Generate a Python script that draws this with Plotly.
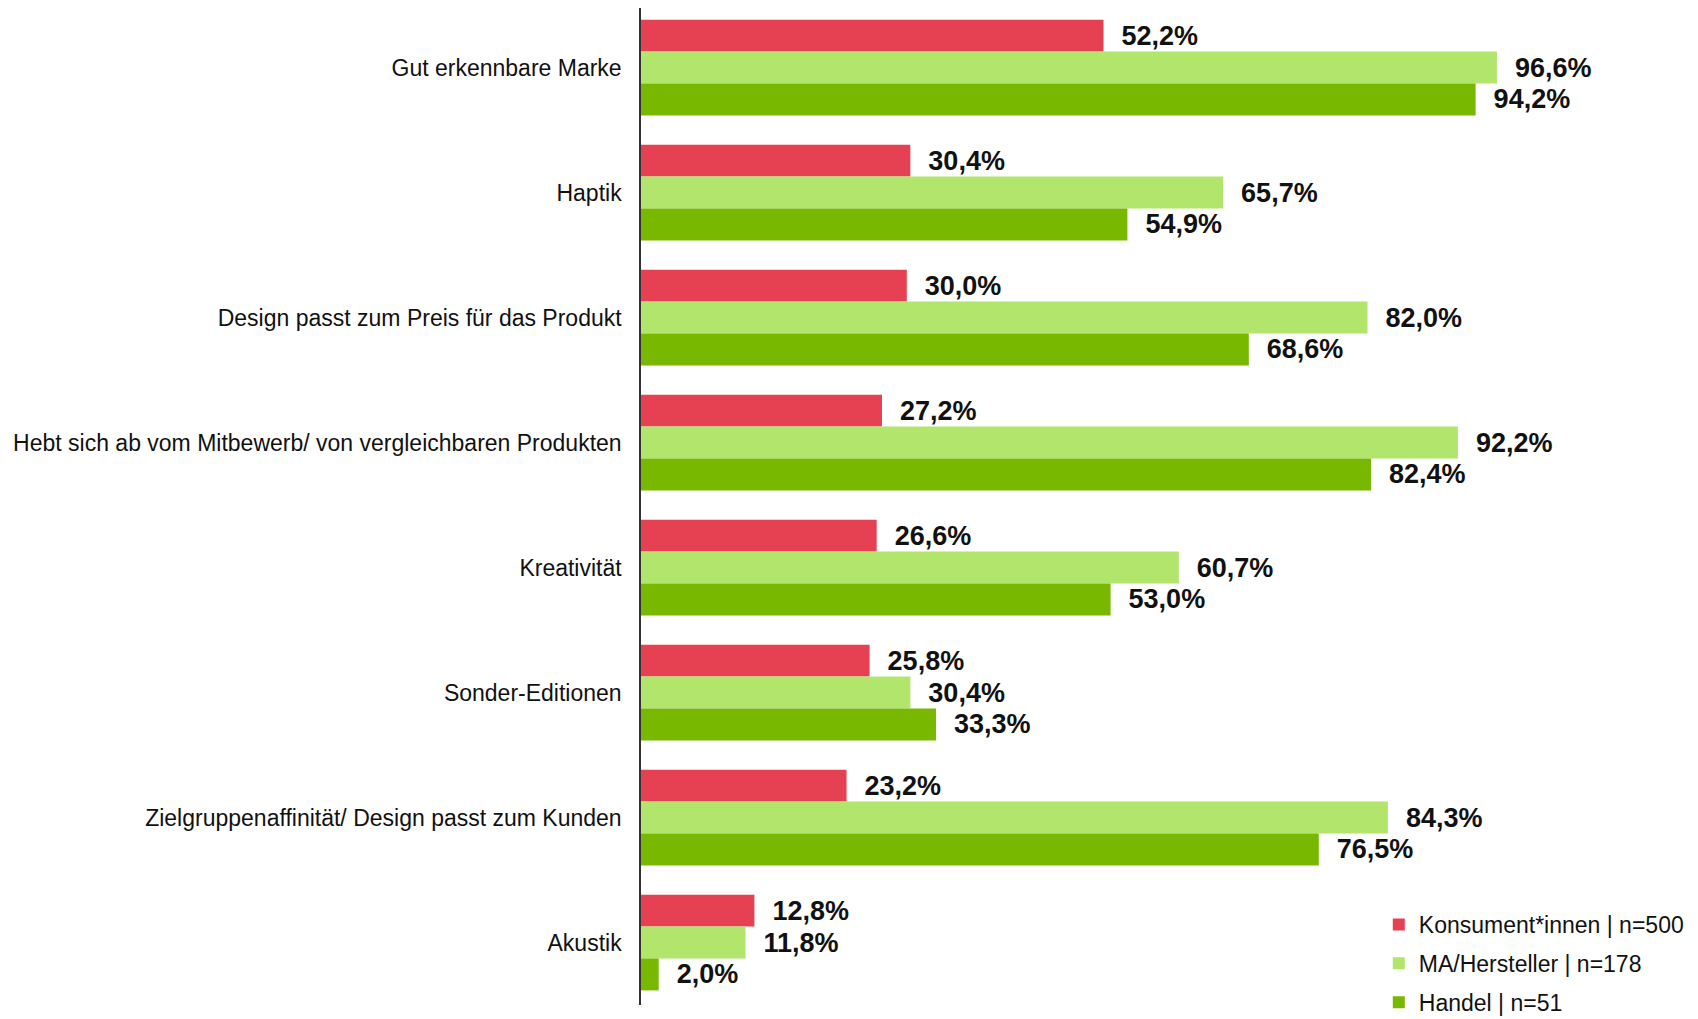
import plotly.graph_objects as go

categories = [
    "Gut erkennbare Marke",
    "Haptik",
    "Design passt zum Preis für das Produkt",
    "Hebt sich ab vom Mitbewerb/ von vergleichbaren Produkten",
    "Kreativität",
    "Sonder-Editionen",
    "Zielgruppenaffinität/ Design passt zum Kunden",
    "Akustik",
]
konsumenten = [52.2, 30.4, 30.0, 27.2, 26.6, 25.8, 23.2, 12.8]
hersteller = [96.6, 65.7, 82.0, 92.2, 60.7, 30.4, 84.3, 11.8]
handel = [94.2, 54.9, 68.6, 82.4, 53.0, 33.3, 76.5, 2.0]

series_names = ["Konsument*innen | n=500", "MA/Hersteller | n=178", "Handel | n=51"]
series_values = [konsumenten, hersteller, handel]
colors = ["#E64152", "#B2E56C", "#78B800"]

FONT = "Arial, Liberation Sans, sans-serif"

fig = go.Figure()
for i, (name, vals, col) in enumerate(zip(series_names, series_values, colors)):
    fig.add_trace(go.Bar(
        y=categories,
        x=vals,
        orientation="h",
        name=name,
        legendgroup=f"g{i}",
        marker=dict(color=col, line=dict(width=0)),
        text=["\u00a0\u00a0" + f"{v:.1f}".replace(".", ",") + "%" for v in vals],
        textposition="outside",
        cliponaxis=False,
        textfont=dict(family=FONT, size=27, color="#111111", weight="bold"),
        hoverinfo="skip",
    ))

fig.update_layout(
    width=1690,
    height=1011,
    barmode="group",
    bargap=0.234,
    bargroupgap=0,
    plot_bgcolor="white",
    paper_bgcolor="white",
    margin=dict(l=633, r=0, t=0, b=14, autoexpand=False),
    showlegend=True,
    legend=dict(
        x=0.698, xanchor="left",
        y=-0.019, yanchor="bottom",
        traceorder="grouped",
        tracegroupgap=6,
        font=dict(family=FONT, size=23, color="#111111"),
        bgcolor="rgba(0,0,0,0)",
        itemwidth=30,
    ),
)
fig.update_xaxes(
    range=[0, 119.3],
    showgrid=False,
    zeroline=False,
    showticklabels=False,
    showline=False,
    ticks="",
)
fig.update_yaxes(
    autorange=False,
    range=[7.5, -0.476],
    showgrid=False,
    zeroline=False,
    showline=True,
    linecolor="#333333",
    linewidth=1.5,
    ticks="",
    ticklabelstandoff=13,
    tickfont=dict(family=FONT, size=23, color="#111111"),
)

fig.write_html("out.html")
